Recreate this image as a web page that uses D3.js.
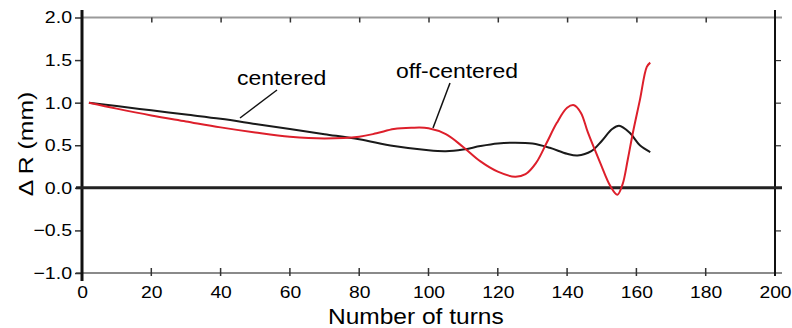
<!DOCTYPE html>
<html>
<head>
<meta charset="utf-8">
<script src="https://cdn.jsdelivr.net/npm/d3@7"></script>
<style>
  body { margin: 0; background: #fff; }
  text { font-family: "Liberation Sans", Arial, sans-serif; fill: #000; }
</style>
</head>
<body>
<div id="chart"></div>
<script>
// data
const centeredX = [2, 10, 20, 30, 40, 50, 60, 70, 80, 90, 100, 105, 110, 115, 120, 125, 130, 135, 140, 143, 147, 150, 153, 155, 158, 161, 164];
const centeredY = [1.0, 0.96, 0.91, 0.86, 0.81, 0.75, 0.69, 0.63, 0.57, 0.49, 0.44, 0.43, 0.45, 0.49, 0.52, 0.53, 0.52, 0.47, 0.40, 0.38, 0.43, 0.55, 0.69, 0.73, 0.65, 0.50, 0.42];

const offX = [2, 10, 20, 30, 40, 50, 60, 70, 80, 85, 90, 95, 100, 105, 110, 115, 120, 125, 128, 131, 134, 137, 140, 142, 144, 146, 149.5, 152.5, 154.5, 156, 157.5, 159, 161, 163, 164];
const offY = [1.0, 0.93, 0.85, 0.78, 0.71, 0.65, 0.60, 0.58, 0.60, 0.64, 0.69, 0.705, 0.70, 0.63, 0.48, 0.31, 0.19, 0.13, 0.16, 0.29, 0.52, 0.76, 0.94, 0.97, 0.88, 0.65, 0.30, 0.02, -0.08, 0.04, 0.33, 0.65, 1.03, 1.42, 1.47];

const xTicks = [0, 20, 40, 60, 80, 100, 120, 140, 160, 180, 200];
const yTicks = [-1.0, -0.5, 0.0, 0.5, 1.0, 1.5, 2.0];

const W = 792, H = 328;
const svg = d3.select("#chart").append("svg")
    .attr("width", W)
    .attr("height", H);

const x = d3.scaleLinear().domain([0, 200]).range([82, 775]);
const y = d3.scaleLinear().domain([-1, 2]).range([273, 17.5]);

// the lettering in the picture is wider than Arial, so stretch it a bit
function stretch(sel, k) {
    sel.each(function() {
        const t = d3.select(this);
        const tx = +t.attr("x") || 0, ty = +t.attr("y") || 0;
        t.attr("x", 0).attr("y", 0)
            .attr("transform", `translate(${tx},${ty}) scale(${k},1)`);
    });
}

// top and bottom frame lines (gray)
svg.append("line")
    .attr("x1", x(0)).attr("x2", 782)
    .attr("y1", y(2)).attr("y2", y(2))
    .attr("stroke", "#9a9a9a").attr("stroke-width", 2);
svg.append("line")
    .attr("x1", 76).attr("x2", 782)
    .attr("y1", y(-1)).attr("y2", y(-1))
    .attr("stroke", "#8a8a8a").attr("stroke-width", 2);

// top ticks pointing down
svg.append("g")
    .attr("transform", `translate(0,${y(2)})`)
    .call(d3.axisBottom(x).tickValues(xTicks.slice(1, -1)).tickSize(5).tickFormat(""))
    .call(g => g.select(".domain").remove())
    .call(g => g.selectAll("line").attr("stroke", "#333").attr("stroke-width", 1.5));

// bottom axis: labels below, small ticks across the line
const xAxis = svg.append("g")
    .attr("transform", `translate(0,${y(-1)})`)
    .call(d3.axisBottom(x).tickValues(xTicks).tickSize(0).tickPadding(13)
        .tickFormat(d3.format("d")));
xAxis.select(".domain").remove();
xAxis.selectAll("text")
    .style("font-size", "16.5px")
    .style("font-family", "'Liberation Sans', Arial, sans-serif")
    .attr("fill", "#000")
    .call(stretch, 1.17);
svg.append("g")
    .selectAll("line")
    .data(xTicks.slice(1, -1))
    .join("line")
    .attr("x1", d => x(d)).attr("x2", d => x(d))
    .attr("y1", y(-1) - 5).attr("y2", y(-1) + 3)
    .attr("stroke", "#333").attr("stroke-width", 1.5);

// left axis
const yAxis = svg.append("g")
    .attr("transform", `translate(${x(0)},0)`)
    .call(d3.axisLeft(y).tickValues(yTicks).tickSize(7).tickPadding(3)
        .tickFormat(d3.format(".1f")));
yAxis.select(".domain").remove();
yAxis.selectAll("line").attr("stroke", "#333").attr("stroke-width", 1.5);
yAxis.selectAll("text")
    .style("font-size", "17px")
    .style("font-family", "'Liberation Sans', Arial, sans-serif")
    .attr("fill", "#000")
    .call(stretch, 1.15);
svg.append("line")
    .attr("x1", x(0)).attr("x2", x(0))
    .attr("y1", 10).attr("y2", 281)
    .attr("stroke", "#111").attr("stroke-width", 3);

// right axis
svg.append("g")
    .attr("transform", `translate(${x(200)},0)`)
    .call(d3.axisRight(y).tickValues([-0.5, 0.5, 1.0, 1.5]).tickSize(6).tickFormat(""))
    .call(g => g.select(".domain").remove())
    .call(g => g.selectAll("line").attr("stroke", "#333").attr("stroke-width", 1.2));
svg.append("line")
    .attr("x1", x(200)).attr("x2", x(200))
    .attr("y1", 10).attr("y2", 276)
    .attr("stroke", "#111").attr("stroke-width", 2);

// zero line
svg.append("line")
    .attr("x1", 76).attr("x2", 782)
    .attr("y1", y(0)).attr("y2", y(0))
    .attr("stroke", "#222").attr("stroke-width", 3);

// curves
const line = d3.line()
    .x(d => x(d[0]))
    .y(d => y(d[1]))
    .curve(d3.curveCatmullRom.alpha(0.5));

svg.append("path")
    .datum(d3.zip(centeredX, centeredY))
    .attr("fill", "none")
    .attr("stroke", "#1a1a1a")
    .attr("stroke-width", 2)
    .attr("d", line);

svg.append("path")
    .datum(d3.zip(offX, offY))
    .attr("fill", "none")
    .attr("stroke", "#dd1f2b")
    .attr("stroke-width", 2)
    .attr("d", line);

// annotations
svg.append("text")
    .attr("x", 237).attr("y", 85)
    .style("font-size", "20.5px")
    .text("centered")
    .call(stretch, 1.12);
svg.append("line")
    .attr("x1", 277).attr("y1", 90)
    .attr("x2", 240).attr("y2", 118)
    .attr("stroke", "#111").attr("stroke-width", 1.5);

svg.append("text")
    .attr("x", 396).attr("y", 78)
    .style("font-size", "20.5px")
    .text("off-centered")
    .call(stretch, 1.12);
svg.append("line")
    .attr("x1", 450).attr("y1", 83)
    .attr("x2", 433).attr("y2", 128)
    .attr("stroke", "#111").attr("stroke-width", 1.5);

// axis titles
svg.append("text")
    .attr("x", 328).attr("y", 323.5)
    .style("font-size", "21.5px")
    .text("Number of turns")
    .call(stretch, 1.14);

svg.append("text")
    .attr("transform", "translate(33,144) rotate(-90) scale(1.18,1)")
    .attr("text-anchor", "middle")
    .style("font-size", "21px")
    .text("Δ R (mm)");
</script>
</body>
</html>
